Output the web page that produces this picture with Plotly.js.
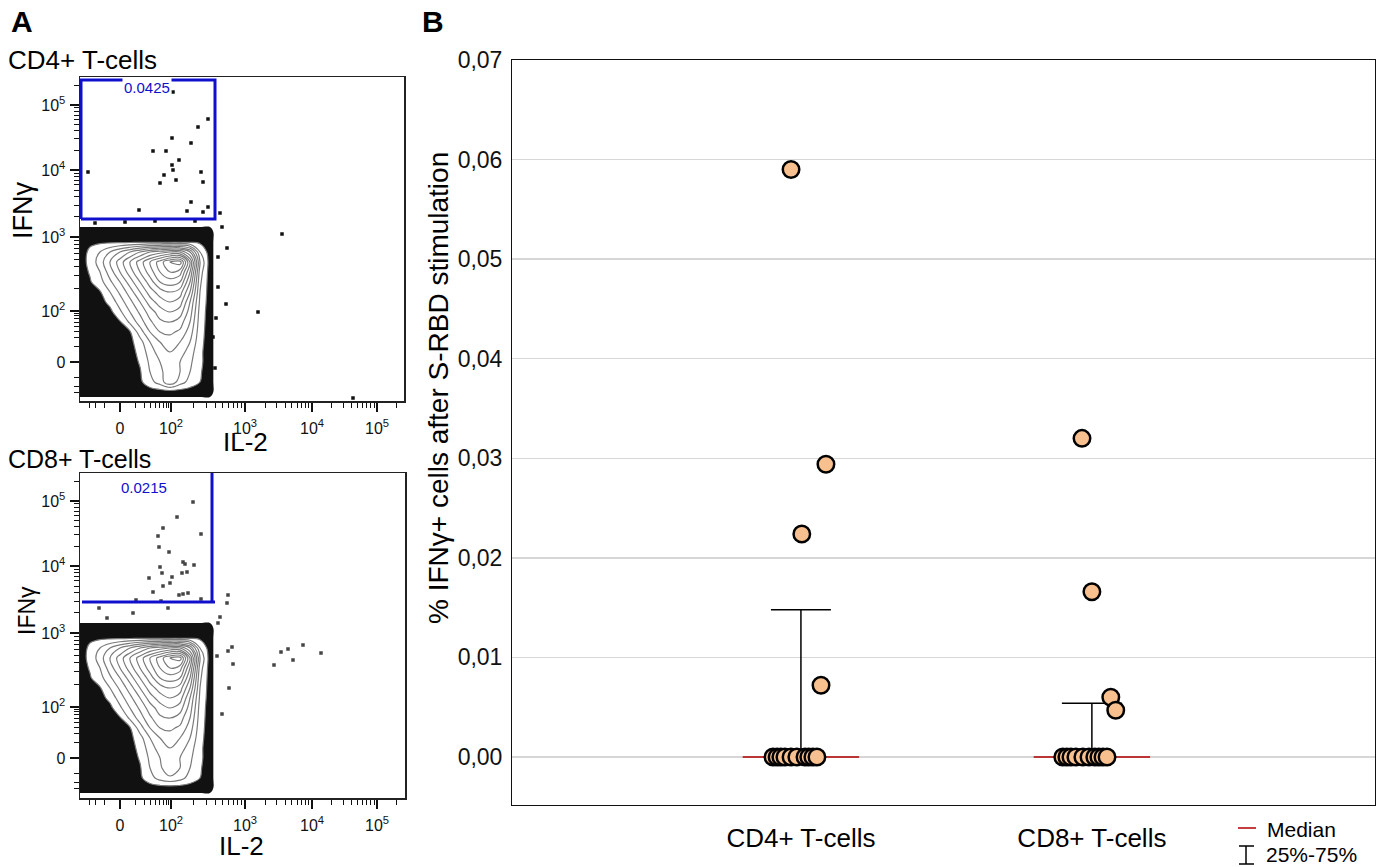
<!DOCTYPE html>
<html>
<head>
<meta charset="utf-8">
<script src="https://cdn.plot.ly/plotly-3.0.1.min.js"></script>
<style>html,body{margin:0;padding:0;background:#fff;}#chart{width:1391px;height:867px;}</style>
</head>
<body>
<div id="chart"></div>
<script>
// ---------------- Panel B data ----------------
const categories = ['CD4+ T-cells', 'CD8+ T-cells'];
const cd4Values = [0.059, 0.0294, 0.0224, 0.0072, 0, 0, 0, 0, 0, 0, 0, 0, 0, 0];
const cd4Jitter = [-0.034, 0.086, 0.003, 0.069, -0.096, -0.082, -0.069, -0.055, -0.034, -0.014, 0.014, 0.027, 0.041, 0.055];
const cd8Values = [0.032, 0.0166, 0.0060, 0.0047, 0, 0, 0, 0, 0, 0, 0, 0, 0, 0];
const cd8Jitter = [-0.034, 0.0, 0.065, 0.082, -0.100, -0.086, -0.072, -0.055, -0.031, -0.010, 0.010, 0.024, 0.038, 0.052];
const medians = [0, 0];
const q1Values = [0, 0];
const q3Values = [0.0148, 0.0054];
const legendLabels = ['Median', '25%-75%'];

// ---------------- Panel A data (display channel units) ----------------
const flowTickValues = [0, 100, 1000, 10000, 100000];
const flowTickText = ['0', '10<sup>2</sup>', '10<sup>3</sup>', '10<sup>4</sup>', '10<sup>5</sup>'];
const gateFreq = ['0.0425', '0.0215'];
const cd4GateX = [-39, 95];
const cd4GateY = [143, 282];
const cd8GateX = [-38, 92];
const cd8GateY = [156, 290];

const cd4DotsX = [53, 88, 78, 52, 71, 33, 46, 59, 52, 53, -32, 81, 44, 56, 83, 40, 71, 19, 67, 83, 88, 100, 102, 107, 98, 162, 138, 106, 98, 95, 233, 96, 93, -25, 5, 35, 75];
const cd4DotsY = [270, 243, 235, 224, 219, 211, 211, 202, 197, 192, 190, 190, 187, 182, 180, 179, 160, 152, 151, 150, 155, 149, 135, 114, 105, 128, 50, 58, 75, -6, -36, 44, 25, 139, 140, 141, 141];
const cd8DotsX = [73, 57, 43, 38, 81, 39, 49, 63, 65, 74, 40, 42, 62, 67, 29, 52, 50, 43, 33, 59, 63, 68, 81, 16, 41, -21, 13, -13, 48, 108, 107, 100, 98, 112, 108, 113, 109, 102, 97, 154, 161, 168, 173, 183, 201];
const cd8DotsY = [256, 241, 230, 222, 224, 211, 206, 196, 194, 193, 191, 185, 185, 186, 180, 181, 175, 172, 166, 163, 164, 165, 159, 158, 157, 150, 145, 140, 150, 163, 155, 141, 135, 111, 107, 94, 70, 44, 102, 93, 106, 109, 98, 113, 105];

const densX = [-40, -30, -20, -10, 0, 10, 20, 30, 40, 50, 60, 70, 80, 90, 100];
const densY = [-40, -30, -20, -10, 0, 10, 20, 30, 40, 50, 60, 70, 80, 90, 100, 110, 120, 130, 140];
const cd4Density = [
 [0.5,0.5,0.5,0.5,0.5,0.5,0.5,0.5,0.5,0.5,0.5,0.5,0.5,0.5,0],
 [1.5,1.5,1.5,1.5,1.5,1.5,1.5,1.5,1.5,1.5,1.5,1.5,1.5,1.5,0],
 [1.5,1.5,1.5,1.5,1.5,1.5,1.8,2.6,3.5,4.8,3.5,2.6,2.0,1.5,0],
 [1.5,1.5,1.5,1.5,1.5,1.5,1.9,3.0,3.8,4.5,4.0,3.0,2.1,1.5,0],
 [1.5,1.5,1.5,1.5,1.5,1.5,2.1,3.2,4.0,4.5,4.0,3.2,2.2,1.5,0],
 [1.5,1.5,1.5,1.5,1.5,1.6,2.3,3.5,4.5,5.0,4.5,3.5,2.2,1.5,0],
 [1.5,1.5,1.5,1.5,1.5,1.7,2.6,4.0,5.0,5.5,5.0,4.0,2.3,1.5,0],
 [1.5,1.5,1.5,1.5,1.6,1.9,3.5,5.0,6.0,6.2,5.8,4.5,2.4,1.5,0],
 [1.5,1.5,1.5,1.5,1.9,3.2,4.5,5.8,6.8,7.0,6.5,5.0,2.5,1.5,0],
 [1.5,1.5,1.5,1.7,2.8,4.0,5.2,6.5,7.5,8.0,7.5,5.5,2.6,1.5,0],
 [1.5,1.5,1.6,2.3,3.5,4.7,6.0,7.5,8.5,9.0,8.5,6.0,2.8,1.5,0],
 [1.5,1.6,1.9,3.0,4.2,5.5,7.0,8.5,9.5,10.0,9.5,7.0,3.0,1.5,0],
 [1.5,1.9,2.6,3.8,5.0,6.5,8.0,9.5,11.0,11.5,11.0,8.0,3.2,1.5,0],
 [1.5,2.1,3.0,4.5,6.0,7.5,9.0,10.5,12.0,13.0,12.5,9.0,3.5,1.5,0],
 [1.5,2.3,3.5,5.0,6.5,8.0,9.5,11.0,12.5,14.0,14.5,10.0,4.0,1.5,0],
 [1.5,2.2,3.0,4.0,5.0,6.0,7.0,8.0,8.5,9.0,9.0,7.0,3.0,1.5,0],
 [1.5,1.8,1.8,1.8,1.8,1.8,1.8,1.8,1.8,1.8,1.8,1.8,1.8,1.5,0],
 [1.5,1.5,1.5,1.5,1.5,1.5,1.5,1.5,1.5,1.5,1.5,1.5,1.5,1.5,0],
 [0.5,0.5,0.5,0.5,0.5,0.5,0.5,0.5,0.5,0.5,0.5,0.5,0.5,0.5,0]
];
const cd8Density = [
 [0.5,0.5,0.5,0.5,0.5,0.5,0.5,0.5,0.5,0.5,0.5,0.5,0.5,0.5,0],
 [1.5,1.5,1.5,1.5,1.5,1.5,1.5,1.5,1.5,1.5,1.5,1.5,1.5,1.5,0],
 [1.5,1.5,1.5,1.5,1.5,1.5,1.8,2.6,3.4,3.8,3.4,2.6,2.0,1.5,0],
 [1.5,1.5,1.5,1.5,1.5,1.5,1.9,3.0,3.8,4.8,4.0,3.0,2.1,1.5,0],
 [1.5,1.5,1.5,1.5,1.5,1.5,2.1,3.2,4.0,4.4,4.0,3.2,2.2,1.5,0],
 [1.5,1.5,1.5,1.5,1.5,1.6,2.3,3.5,4.5,5.0,4.5,3.5,2.2,1.5,0],
 [1.5,1.5,1.5,1.5,1.5,1.7,2.6,4.0,5.0,5.5,5.0,4.0,2.3,1.5,0],
 [1.5,1.5,1.5,1.5,1.6,1.9,3.5,5.0,6.0,6.2,5.8,4.5,2.4,1.5,0],
 [1.5,1.5,1.5,1.5,1.9,3.2,4.5,5.8,6.8,7.0,6.5,5.0,2.5,1.5,0],
 [1.5,1.5,1.5,1.7,2.8,4.0,5.2,6.5,7.5,8.0,7.5,5.5,2.6,1.5,0],
 [1.5,1.5,1.6,2.3,3.5,4.7,6.0,7.5,8.5,9.0,8.5,6.0,2.8,1.5,0],
 [1.5,1.6,1.9,3.0,4.2,5.5,7.0,8.5,9.5,10.0,9.5,7.0,3.0,1.5,0],
 [1.5,1.9,2.6,3.8,5.0,6.5,8.0,9.5,11.0,11.5,11.0,8.0,3.2,1.5,0],
 [1.5,2.1,3.0,4.5,6.0,7.5,9.0,10.5,12.0,13.0,12.5,9.0,3.5,1.5,0],
 [1.5,2.3,3.5,5.0,6.5,8.0,9.5,11.0,12.5,14.0,14.5,10.0,4.0,1.5,0],
 [1.5,2.2,3.0,4.0,5.0,6.0,7.0,8.0,8.5,9.0,9.0,7.0,3.0,1.5,0],
 [1.5,1.8,1.8,1.8,1.8,1.8,1.8,1.8,1.8,1.8,1.8,1.8,1.8,1.5,0],
 [1.5,1.5,1.5,1.5,1.5,1.5,1.5,1.5,1.5,1.5,1.5,1.5,1.5,1.5,0],
 [0.5,0.5,0.5,0.5,0.5,0.5,0.5,0.5,0.5,0.5,0.5,0.5,0.5,0.5,0]
];

// ---------------- helpers ----------------
const W = 1391, H = 867;
const P = x => x / W;
const Q = y => 1 - y / H;
const FONT = 'Liberation Sans, Arial, Helvetica, sans-serif';

// biexponential-like display transform (axis scale only)
function toDisp(v) {
  const V = [10, 100, 1000, 10000, 100000];
  const D = [0, 51, 125, 192, 257];
  if (v === 0) return 0;
  if (v < 0) return -toDisp(-v);
  if (v <= 100) return 51 * Math.log10(Math.max(v, 10) / 10);
  if (v >= 100000) return 257 + 65 * Math.log10(v / 100000);
  for (let i = 1; i < V.length - 1; i++) {
    if (v <= V[i + 1]) return D[i] + (D[i + 1] - D[i]) * Math.log10(v / V[i]);
  }
}
const majorDisp = flowTickValues.map(toDisp);
const minorDisp = [];
[10, 100, 1000, 10000, 100000].forEach(dec => {
  for (let k = 2; k <= 9; k++) {
    const d = toDisp(k * dec);
    if (d < 286) minorDisp.push(d);
  }
});
[20, 30, 40].forEach(v => minorDisp.push(toDisp(-v)));

function flowAxis(domain, range, anchor, isX) {
  return {
    domain: domain, range: range, anchor: anchor,
    showline: true, mirror: true, linecolor: '#222', linewidth: 1.5,
    showgrid: false, zeroline: false, fixedrange: true,
    ticks: 'outside', ticklen: 9, tickwidth: 1.5, tickcolor: '#111',
    tickmode: 'array', tickvals: majorDisp, ticktext: flowTickText,
    tickfont: {family: FONT, size: 16, color: '#111'},
    ticklabelstandoff: isX ? 3 : 1,
    minor: {tickmode: 'array', tickvals: minorDisp, ticks: 'outside', ticklen: 5, tickwidth: 1, tickcolor: '#111'}
  };
}

const traces = [];
function addFlow(dens, dotsX, dotsY, dotColor, xa, ya) {
  // dense outlier band (levels 1..2 filled black, rest white)
  traces.push({
    type: 'contour', x: densX, y: densY, z: dens, xaxis: xa, yaxis: ya,
    autocontour: false,
    contours: {coloring: 'fill', start: 1, end: 2, size: 1, showlines: false},
    colorscale: [[0, '#ffffff'], [0.3, '#ffffff'], [0.34, '#111111'], [0.66, '#111111'], [0.7, '#ffffff'], [1, '#ffffff']],
    line: {width: 0, smoothing: 1},
    showscale: false, hoverinfo: 'skip', showlegend: false
  });
  traces.push({
    type: 'contour', x: densX, y: densY, z: dens, xaxis: xa, yaxis: ya,
    autocontour: false,
    contours: {coloring: 'lines', start: 2, end: 14.5, size: 1},
    colorscale: [[0, '#7a7a7a'], [1, '#7a7a7a']],
    line: {width: 1.2, smoothing: 1},
    showscale: false, hoverinfo: 'skip', showlegend: false
  });
  traces.push({
    type: 'scatter', mode: 'markers', x: dotsX, y: dotsY, xaxis: xa, yaxis: ya,
    marker: {symbol: 'square', size: 3.5, color: dotColor},
    hoverinfo: 'skip', showlegend: false
  });
}
addFlow(cd4Density, cd4DotsX, cd4DotsY, '#111', 'x', 'y');
addFlow(cd8Density, cd8DotsX, cd8DotsY, '#444', 'x2', 'y2');

const GATE = '#1010cc';
traces.push({
  type: 'scatter', mode: 'lines', xaxis: 'x', yaxis: 'y',
  x: [cd4GateX[0], cd4GateX[1], cd4GateX[1], cd4GateX[0], cd4GateX[0]],
  y: [cd4GateY[0], cd4GateY[0], cd4GateY[1], cd4GateY[1], cd4GateY[0]],
  line: {color: GATE, width: 3}, hoverinfo: 'skip', showlegend: false
});
traces.push({
  type: 'scatter', mode: 'lines', xaxis: 'x2', yaxis: 'y2',
  x: [cd8GateX[0], cd8GateX[1] + 3, null, cd8GateX[1], cd8GateX[1]],
  y: [cd8GateY[0], cd8GateY[0], null, cd8GateY[0], cd8GateY[1]],
  line: {color: GATE, width: 3}, hoverinfo: 'skip', showlegend: false
});

// ---------------- Panel B traces ----------------
const MED_HALF = 0.2, CAP_HALF = 0.103;
const medX = [], medY = [], whX = [], whY = [];
categories.forEach((c, i) => {
  medX.push(i - MED_HALF, i + MED_HALF, null); medY.push(medians[i], medians[i], null);
  whX.push(i, i, null, i - CAP_HALF, i + CAP_HALF, null);
  whY.push(q1Values[i], q3Values[i], null, q3Values[i], q3Values[i], null);
});
traces.push({type: 'scatter', mode: 'lines', x: medX, y: medY, xaxis: 'x3', yaxis: 'y3',
  line: {color: '#b00000', width: 1.5}, hoverinfo: 'skip', showlegend: false});
traces.push({type: 'scatter', mode: 'lines', x: whX, y: whY, xaxis: 'x3', yaxis: 'y3',
  line: {color: '#000', width: 1.5}, hoverinfo: 'skip', showlegend: false});
[[cd4Values, cd4Jitter], [cd8Values, cd8Jitter]].forEach((g, i) => {
  traces.push({
    type: 'scatter', mode: 'markers', xaxis: 'x3', yaxis: 'y3',
    x: g[1].map(j => i + j), y: g[0],
    marker: {size: 16.5, color: '#f8c08e', line: {color: '#000', width: 2.5}},
    hoverinfo: 'skip', showlegend: false, cliponaxis: false
  });
});

// ---------------- layout ----------------
const ann = (text, x, y, size, extra) => Object.assign({
  text: text, x: x, y: y, xref: 'paper', yref: 'paper', showarrow: false,
  xanchor: 'center', yanchor: 'middle', font: {family: FONT, size: size, color: '#000'}
}, extra || {});

const layout = {
  width: W, height: H,
  margin: {l: 0, r: 0, t: 0, b: 0},
  paper_bgcolor: '#fff', plot_bgcolor: '#fff',
  showlegend: false, separators: ', ',
  xaxis: flowAxis([P(80), P(404)], [-40, 284], 'y', true),
  yaxis: flowAxis([Q(401), Q(77)], [-39, 285], 'x', false),
  xaxis2: flowAxis([P(80), P(405)], [-40, 285], 'y2', true),
  yaxis2: flowAxis([Q(798), Q(473)], [-40, 285], 'x2', false),
  xaxis3: {
    domain: [P(512), P(1375)], range: [-0.993, 1.973], anchor: 'y3',
    showline: true, mirror: true, linecolor: '#111', linewidth: 1,
    showgrid: false, zeroline: false, ticks: '',
    tickmode: 'array', tickvals: categories.map((c, i) => i), ticktext: categories,
    tickfont: {family: FONT, size: 26, color: '#000'}, ticklabelstandoff: 10
  },
  yaxis3: {
    domain: [Q(805), Q(60)], range: [-0.00482, 0.07], anchor: 'x3',
    showline: true, mirror: true, linecolor: '#111', linewidth: 1,
    showgrid: true, gridcolor: '#d6d6d6', gridwidth: 1.5, zeroline: false,
    ticks: '', tickmode: 'linear', tick0: 0, dtick: 0.01, tickformat: '.2f',
    tickfont: {family: FONT, size: 23, color: '#111'}, ticklabelstandoff: 4
  },
  annotations: [
    ann('<b>A</b>', P(9), Q(21), 30, {xanchor: 'left'}),
    ann('<b>B</b>', P(420), Q(21), 30, {xanchor: 'left'}),
    ann('CD4+ T-cells', P(6), Q(60), 26, {xanchor: 'left'}),
    ann('CD8+ T-cells', P(6), Q(459), 25, {xanchor: 'left'}),
    ann('IFNγ', P(23), Q(211), 27, {textangle: -90}),
    ann('IFNγ', P(27), Q(610), 23, {textangle: -90}),
    ann('IL-2', P(245), Q(442), 26),
    ann('IL-2', P(242), Q(846), 26),
    {text: gateFreq[0], x: 27, y: 274, xref: 'x', yref: 'y', showarrow: false,
     font: {family: FONT, size: 15, color: GATE}, bgcolor: '#fff', borderpad: 1},
    {text: gateFreq[1], x: 23.5, y: 271, xref: 'x2', yref: 'y2', showarrow: false,
     font: {family: FONT, size: 15, color: GATE}},
    ann('% IFNγ+ cells after S-RBD stimulation', P(438), Q(388), 28, {textangle: -90}),
    ann(legendLabels[0], P(1265), Q(829), 21, {xanchor: 'left'}),
    ann(legendLabels[1], P(1264), Q(854), 21, {xanchor: 'left'})
  ],
  shapes: [
    {type: 'line', xref: 'paper', yref: 'paper', x0: P(1238), x1: P(1256), y0: Q(828), y1: Q(828),
     line: {color: '#b00000', width: 1.5}},
    {type: 'line', xref: 'paper', yref: 'paper', x0: P(1246), x1: P(1246), y0: Q(846), y1: Q(864),
     line: {color: '#000', width: 1.5}},
    {type: 'line', xref: 'paper', yref: 'paper', x0: P(1239), x1: P(1254), y0: Q(846), y1: Q(846),
     line: {color: '#000', width: 1.5}},
    {type: 'line', xref: 'paper', yref: 'paper', x0: P(1239), x1: P(1254), y0: Q(864), y1: Q(864),
     line: {color: '#000', width: 1.5}}
  ]
};

Plotly.newPlot('chart', traces, layout, {staticPlot: true, displayModeBar: false});
</script>
</body>
</html>
